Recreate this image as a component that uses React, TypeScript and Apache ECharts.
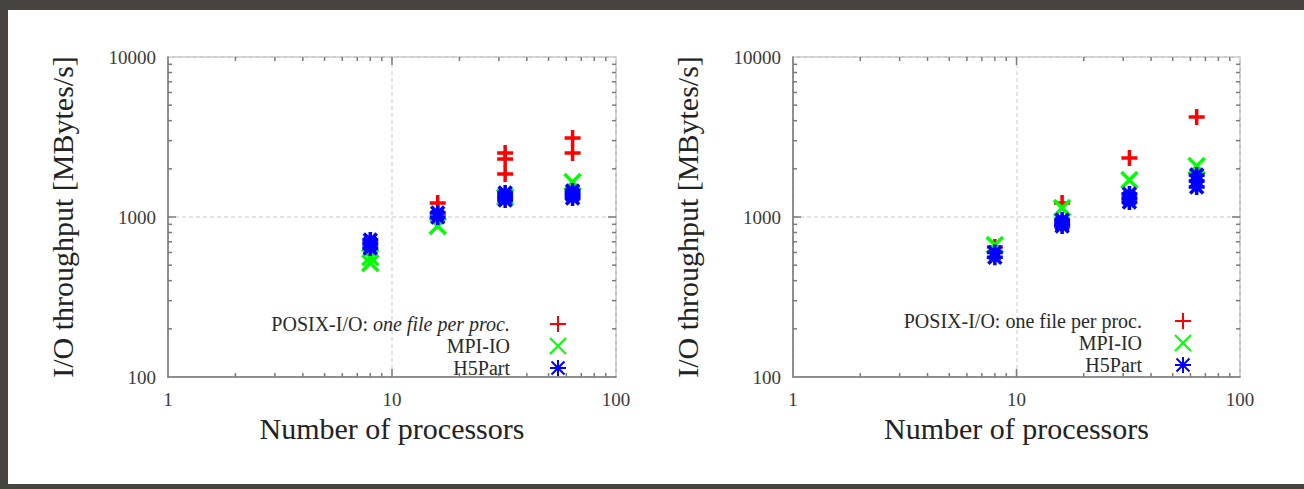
import React, { useEffect, useRef } from 'react';
import * as echarts from 'echarts';

const SERIES_NAMES = ['POSIX-I/O: one file per proc.', 'MPI-IO', 'H5Part'];
const COLORS = ['#ff0000', '#00ff00', '#0000ff'];
const X_TITLE = 'Number of processors';
const Y_TITLE = 'I/O throughput [MBytes/s]';

// [processors, MBytes/s]
const POSIX_LEFT = [[16, 1223], [32, 2512], [32, 2304], [32, 1858], [64, 3118], [64, 2512]];
const MPIIO_LEFT = [[8, 516], [8, 560], [16, 878], [32, 1334], [64, 1655]];
const H5PART_LEFT = [[8, 718], [8, 680], [8, 640], [16, 1060], [16, 1000], [32, 1413], [32, 1340], [32, 1276], [64, 1452], [64, 1380], [64, 1314]];

const POSIX_RIGHT = [[8, 650], [16, 1223], [32, 2338], [64, 4217]];
const MPIIO_RIGHT = [[8, 668], [16, 1138], [32, 1703], [64, 2084]];
const H5PART_RIGHT = [[8, 600], [8, 560], [16, 957], [16, 910], [16, 878], [32, 1391], [32, 1310], [32, 1241], [64, 1830], [64, 1680], [64, 1540]];

const X_MIN = 1;
const X_MAX = 100;
const Y_MIN = 100;
const Y_MAX = 10000;
const X_MINOR_TICKS = [2, 3, 4, 5, 6, 7, 8, 9, 20, 30, 40, 50, 60, 70, 80, 90];
const X_MAJOR_TICKS = [10];
const Y_MINOR_TICKS = [200, 300, 400, 500, 600, 700, 800, 900, 2000, 3000, 4000, 5000, 6000, 7000, 8000, 9000];
const Y_MAJOR_TICKS = [1000];

const SYMBOLS = [
  'path://M0,8L16,8M8,0L8,16',
  'path://M0,0L16,16M16,0L0,16',
  'path://M0,8L16,8M8,0L8,16M1.5,1.5L14.5,14.5M14.5,1.5L1.5,14.5',
];

const SERIF = "'Liberation Serif', 'DejaVu Serif', 'Times New Roman', serif";
const TICK_COLOR = '#7a7a7a';

function tickSeries(gridIdx: number, values: number[], dir: 'x' | 'y', len: number) {
  return {
    type: 'custom',
    xAxisIndex: gridIdx,
    yAxisIndex: gridIdx,
    silent: true,
    clip: false,
    z: 4,
    data: values.map((v) => (dir === 'x' ? [v, Y_MIN] : [X_MIN, v])),
    renderItem: (params: any, api: any) => {
      const style = { stroke: TICK_COLOR, lineWidth: 1.5 };
      if (dir === 'x') {
        const v = api.value(0);
        const b = api.coord([v, Y_MIN]);
        const t = api.coord([v, Y_MAX]);
        return {
          type: 'group',
          children: [
            { type: 'line', shape: { x1: b[0], y1: b[1], x2: b[0], y2: b[1] - len }, style },
            { type: 'line', shape: { x1: t[0], y1: t[1], x2: t[0], y2: t[1] + len }, style },
          ],
        };
      }
      const v = api.value(1);
      const l = api.coord([X_MIN, v]);
      const r = api.coord([X_MAX, v]);
      return {
        type: 'group',
        children: [
          { type: 'line', shape: { x1: l[0], y1: l[1], x2: l[0] + len, y2: l[1] }, style },
          { type: 'line', shape: { x1: r[0], y1: r[1], x2: r[0] - len, y2: r[1] }, style },
        ],
      };
    },
  };
}

function scatter(gridIdx: number, idx: number, data: number[][]) {
  return {
    type: 'scatter',
    name: SERIES_NAMES[idx],
    xAxisIndex: gridIdx,
    yAxisIndex: gridIdx,
    data,
    symbol: SYMBOLS[idx],
    symbolSize: 16,
    z: 5,
    itemStyle: { color: COLORS[idx], borderColor: COLORS[idx], borderWidth: 3.5, opacity: 1 },
    emphasis: { disabled: true },
  };
}

function xAxis(gridIndex: number) {
  return {
    type: 'log',
    logBase: 10,
    gridIndex,
    min: X_MIN,
    max: X_MAX,
    axisLine: { show: true, lineStyle: { color: TICK_COLOR, width: 1.5 } },
    axisTick: { show: false },
    axisLabel: {
      fontFamily: SERIF,
      fontSize: 19,
      color: '#3a3a3a',
      margin: 13,
      formatter: (v: number) => String(Math.round(v)),
    },
    splitLine: { show: true, lineStyle: { color: '#dcdcdc', width: 1.5, type: [4, 3] } },
    name: X_TITLE,
    nameLocation: 'middle',
    nameGap: 36,
    nameTextStyle: { fontFamily: SERIF, fontSize: 30, color: '#222' },
  };
}

function yAxis(gridIndex: number) {
  return {
    type: 'log',
    logBase: 10,
    gridIndex,
    min: Y_MIN,
    max: Y_MAX,
    axisLine: { show: true, lineStyle: { color: TICK_COLOR, width: 1.5 } },
    axisTick: { show: false },
    axisLabel: {
      fontFamily: SERIF,
      fontSize: 19,
      color: '#3a3a3a',
      margin: 12,
      formatter: (v: number) => String(Math.round(v)),
    },
    splitLine: { show: true, lineStyle: { color: '#dcdcdc', width: 1.5, type: [4, 3] } },
    name: Y_TITLE,
    nameLocation: 'middle',
    nameGap: 91,
    nameTextStyle: { fontFamily: SERIF, fontSize: 30, color: '#222' },
  };
}

function legend(right: number, top: number, itemWidth: number, italic: boolean) {
  return {
    data: SERIES_NAMES,
    orient: 'vertical',
    align: 'right',
    right,
    top,
    padding: 0,
    itemGap: 2,
    itemWidth,
    itemHeight: 16,
    selectedMode: false,
    formatter: (name: string) => {
      if (name === SERIES_NAMES[0]) {
        return italic ? '{a|POSIX-I/O: }{i|one file per proc.}' : '{a|POSIX-I/O: one file per proc.}';
      }
      return '{a|' + name + '}';
    },
    textStyle: {
      fontFamily: SERIF,
      fontSize: 20,
      lineHeight: 18,
      color: '#2a2a2a',
      rich: {
        a: { fontFamily: SERIF, fontSize: 20, lineHeight: 18, color: '#2a2a2a' },
        i: { fontFamily: SERIF, fontSize: 20, lineHeight: 18, color: '#2a2a2a', fontStyle: 'italic' },
      },
    },
  };
}

export default function App() {
  const ref = useRef<HTMLDivElement>(null);

  useEffect(() => {
    document.body.style.margin = '0';
    if (!ref.current) return;
    const chart = echarts.init(ref.current, null, { renderer: 'svg' });
    const option = {
      animation: false,
      backgroundColor: '#ffffff',
      grid: [
        { left: 160, top: 47, width: 448, height: 320, show: true, borderColor: '#9a9a9a', borderWidth: 1.2 },
        { left: 785, top: 47, width: 447, height: 320, show: true, borderColor: '#9a9a9a', borderWidth: 1.2 },
      ],
      xAxis: [xAxis(0), xAxis(1)],
      yAxis: [yAxis(0), yAxis(1)],
      legend: [legend(737, 304, 86, true), legend(112, 301, 72, false)],
      series: [
        tickSeries(0, X_MINOR_TICKS, 'x', 4),
        tickSeries(0, X_MAJOR_TICKS, 'x', 8),
        tickSeries(0, Y_MINOR_TICKS, 'y', 4),
        tickSeries(0, Y_MAJOR_TICKS, 'y', 8),
        tickSeries(1, X_MINOR_TICKS, 'x', 4),
        tickSeries(1, X_MAJOR_TICKS, 'x', 8),
        tickSeries(1, Y_MINOR_TICKS, 'y', 4),
        tickSeries(1, Y_MAJOR_TICKS, 'y', 8),
        scatter(0, 0, POSIX_LEFT),
        scatter(0, 1, MPIIO_LEFT),
        scatter(0, 2, H5PART_LEFT),
        scatter(1, 0, POSIX_RIGHT),
        scatter(1, 1, MPIIO_RIGHT),
        scatter(1, 2, H5PART_RIGHT),
      ],
    };
    chart.setOption(option as any);
    return () => chart.dispose();
  }, []);

  return (
    <div
      style={{
        position: 'fixed',
        left: 0,
        top: 0,
        width: 1304,
        height: 489,
        background: '#47433e',
        overflow: 'hidden',
      }}
    >
      <div ref={ref} style={{ position: 'absolute', left: 8, top: 10, width: 1296, height: 474 }} />
    </div>
  );
}
